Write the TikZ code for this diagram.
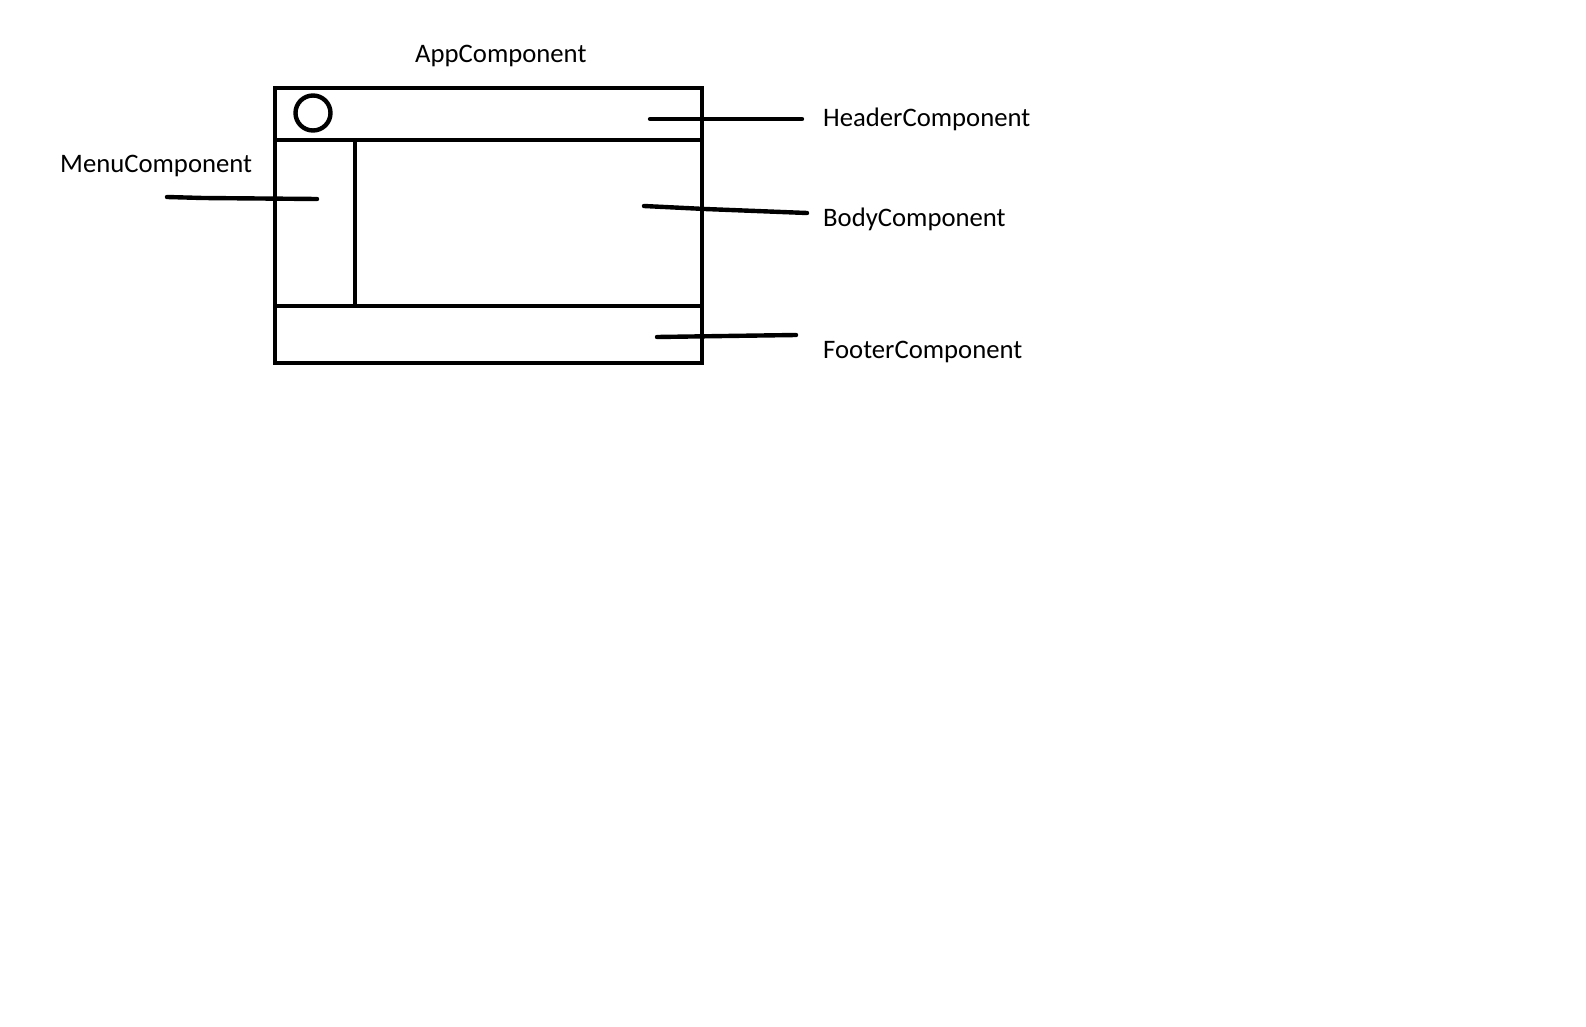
\documentclass[tikz,border=0pt]{standalone}
\usepackage{fontspec}
\setmainfont{Carlito}
\begin{document}
\begin{tikzpicture}[x=1pt,y=-1pt,
  frame/.style={line width=4.4pt},
  pointer/.style={line width=4.4pt,line cap=round,line join=round},
  lbl/.style={anchor=base west,inner sep=0pt,font=\fontsize{26.7}{30}\selectfont}]
\useasboundingbox[fill=white] (0,0) rectangle (1586,1027);
% outer window
\draw[frame] (275,88) rectangle (702,363);
\draw[frame] (275,140) -- (702,140);
\draw[frame] (275,306) -- (702,306);
\draw[frame] (355,140) -- (355,306);
\draw[line width=4.4pt] (313,113) circle (17.5);
% labels
\node[lbl] (app) at (415,63) {AppComponent};
\node[lbl] (menu) at (60,172) {MenuComponent};
\node[lbl] (header) at (823,127) {HeaderComponent};
\node[lbl] (body) at (823,226) {BodyComponent};
\node[lbl] (footer) at (823,358) {FooterComponent};
% pointer end points
\coordinate (h1) at (650,119);
\coordinate (h2) at (802,119);
\coordinate (b1) at (644,206);
\coordinate (b2) at (705,209);
\coordinate (b3) at (807,213);
\coordinate (f1) at (657,337);
\coordinate (f2) at (725,336);
\coordinate (f3) at (796,335);
\coordinate (m1) at (167,197);
\coordinate (m2) at (203,198);
\coordinate (m3) at (317,199);
\draw[pointer] (h1) -- (h2);
\draw[pointer] (b1) -- (b2) -- (b3);
\draw[pointer] (f1) -- (f2) -- (f3);
\draw[pointer] (m1) -- (m2) -- (m3);
\end{tikzpicture}
\end{document}
